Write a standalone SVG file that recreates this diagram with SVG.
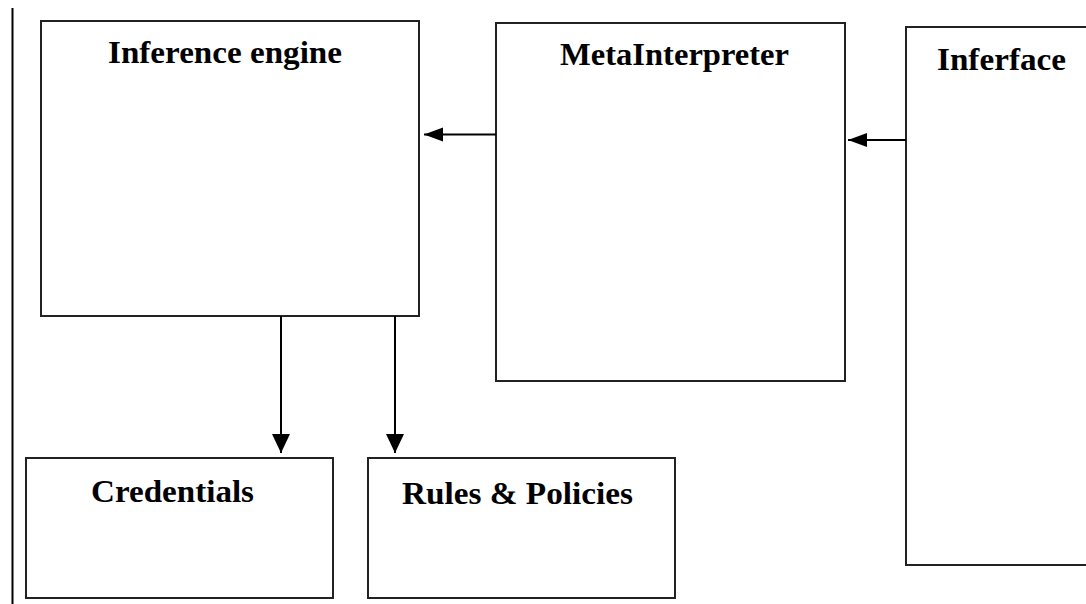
<svg xmlns="http://www.w3.org/2000/svg" width="1086" height="604" viewBox="0 0 1086 604">
<style>
.box{fill:#fff;stroke:#222;stroke-width:2}
.lbl{font-family:"Liberation Serif","Times New Roman",serif;font-weight:bold;font-size:31px;fill:#000}
.edge{stroke:#000;stroke-width:2;fill:none}
</style>
<defs>
<marker id="ah" markerWidth="20" markerHeight="20" refX="19" refY="10" orient="auto" markerUnits="userSpaceOnUse" viewBox="0 0 20 20">
<path d="M0,1 L19,10 L0,19 Z" fill="#000"/>
</marker>
<marker id="ahs" markerWidth="20" markerHeight="20" refX="19" refY="10" orient="auto" markerUnits="userSpaceOnUse" viewBox="0 0 20 20">
<path d="M0,3 L19,10 L0,17 Z" fill="#000"/>
</marker>
</defs>
<rect width="1086" height="604" fill="#fff"/>
<line x1="12.5" y1="8" x2="12.5" y2="604" stroke="#000" stroke-width="2"/>
<g id="inference-engine">
<rect class="box" x="41" y="21" width="378" height="295"/>
<text class="lbl" x="108" y="63" textLength="234" lengthAdjust="spacingAndGlyphs">Inference engine</text>
</g>
<g id="metainterpreter">
<rect class="box" x="496" y="23" width="349" height="358"/>
<text class="lbl" x="560" y="65" textLength="229" lengthAdjust="spacingAndGlyphs">MetaInterpreter</text>
</g>
<g id="inferface">
<rect class="box" x="906" y="27" width="200" height="538"/>
<text class="lbl" x="937" y="70" textLength="129" lengthAdjust="spacingAndGlyphs">Inferface</text>
</g>
<g id="credentials">
<rect class="box" x="26" y="458" width="307" height="140"/>
<text class="lbl" x="91" y="502" textLength="163" lengthAdjust="spacingAndGlyphs">Credentials</text>
</g>
<g id="rules-policies">
<rect class="box" x="368" y="458" width="307" height="140"/>
<text class="lbl" x="402" y="504" textLength="231" lengthAdjust="spacingAndGlyphs">Rules &amp; Policies</text>
</g>
<g id="connectors">
<line class="edge" x1="496" y1="134.5" x2="424" y2="134.5" marker-end="url(#ahs)"/>
<line class="edge" x1="906" y1="140" x2="848" y2="140" marker-end="url(#ahs)"/>
<line class="edge" x1="281" y1="316" x2="281" y2="453" marker-end="url(#ah)"/>
<line class="edge" x1="395" y1="316" x2="395" y2="453" marker-end="url(#ah)"/>
</g>
</svg>
